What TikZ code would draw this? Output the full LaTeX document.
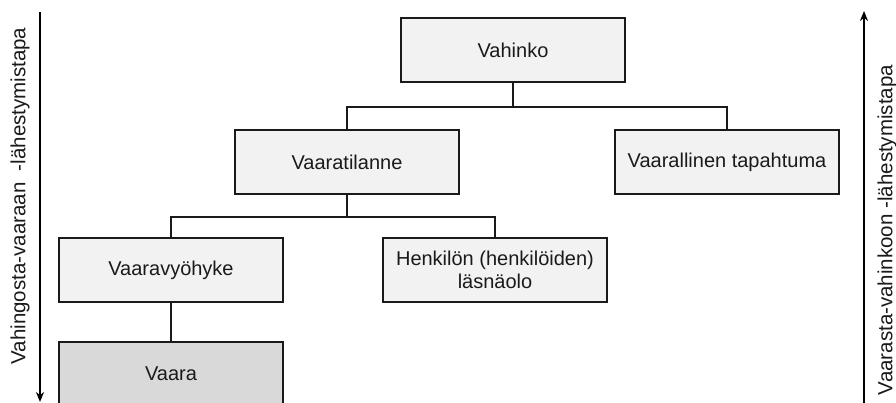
\documentclass[tikz,border=0pt]{standalone}
\usepackage{fontspec}
\setmainfont{Liberation Sans}
\usetikzlibrary{arrows.meta}
\definecolor{boxfill}{HTML}{F2F2F2}
\definecolor{darkfill}{HTML}{D9D9D9}
\definecolor{ink}{HTML}{1A1A1A}
\tikzset{
  box/.style={draw=ink, line width=1.9pt, fill=boxfill, minimum width=224pt, minimum height=64pt,
    inner sep=0pt, align=center, text=ink, font=\fontsize{20}{22.5}\selectfont},
  darkbox/.style={box, fill=darkfill},
  conn/.style={draw=ink, line width=1.6pt},
  sidearrow/.style={draw=black, line width=2.6pt, -{Stealth[length=10pt,width=8pt]}},
  sidetext/.style={rotate=90, text=ink, inner sep=0pt, font=\fontsize{20.5}{24}\selectfont}
}
\begin{document}
\begin{tikzpicture}[x=1pt,y=-1pt]
\useasboundingbox (0,0) rectangle (896,403);
\clip (0,0) rectangle (896,403);
\fill[white] (0,0) rectangle (896,403);

\node[box] (vahinko) at (513,50) {Vahinko};
\node[box] (tilanne) at (347,162) {Vaaratilanne};
\node[box] (tapahtuma) at (727,162) {Vaarallinen tapahtuma};
\node[box] (vyohyke) at (171,270) {Vaaravyöhyke};
\node[box] (henkilo) at (495,270) {Henkilön (henkilöiden)\\läsnäolo};
\node[darkbox] (vaara) at (171,374) {Vaara};

\coordinate (j1) at (513,107);
\coordinate (j2) at (347,217);
\draw[conn] (vahinko.south) -- (j1);
\draw[conn] (tilanne.north) |- (j1) -| (tapahtuma.north);
\draw[conn] (tilanne.south) -- (j2);
\draw[conn] (vyohyke.north) |- (j2) -| (henkilo.north);
\draw[conn] (vyohyke.south) -- (vaara.north);

\coordinate (ltop) at (40,12);
\coordinate (lbot) at (40,402);
\coordinate (rbot) at (864,405);
\coordinate (rtop) at (864,11);
\draw[sidearrow] (ltop) -- (lbot);
\draw[sidearrow] (rbot) -- (rtop);

\node[sidetext] (ltext) at (20,196) {Vahingosta-vaaraan\ \ -lähestymistapa};
\node[sidetext] (rtext) at (887,230) {Vaarasta-vahinkoon -lähestymistapa};
\end{tikzpicture}
\end{document}
